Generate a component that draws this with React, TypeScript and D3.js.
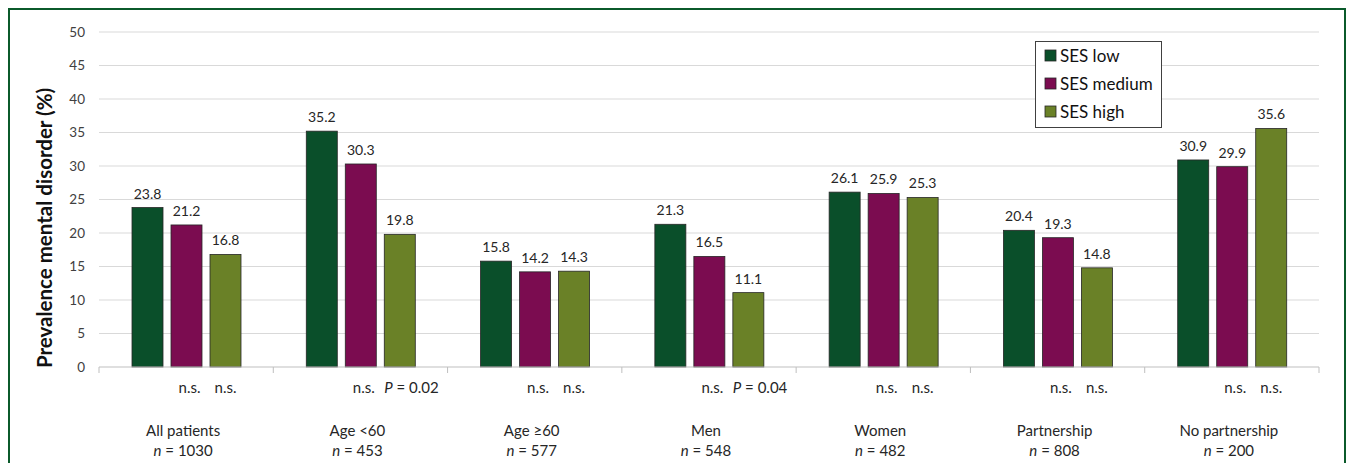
import React, { useEffect, useRef } from "react";
import * as d3 from "d3";

const categories = ["All patients", "Age <60", "Age ≥60", "Men", "Women", "Partnership", "No partnership"];
const sampleSizes = ["1030", "453", "577", "548", "482", "808", "200"];
const seriesNames = ["SES low", "SES medium", "SES high"];
const sesLow = [23.8, 35.2, 15.8, 21.3, 26.1, 20.4, 30.9];
const sesMedium = [21.2, 30.3, 14.2, 16.5, 25.9, 19.3, 29.9];
const sesHigh = [16.8, 19.8, 14.3, 11.1, 25.3, 14.8, 35.6];
const pMedium = ["n.s.", "n.s.", "n.s.", "n.s.", "n.s.", "n.s.", "n.s."];
const pHigh = ["n.s.", "0.02", "n.s.", "0.04", "n.s.", "n.s.", "n.s."];
const yTicks = [0, 5, 10, 15, 20, 25, 30, 35, 40, 45, 50];
const colors = ["#0a4f2a", "#7b0c50", "#6a8127"];

const W = 1347;
const H = 463;
const FONT = "Lato, 'Open Sans', sans-serif";

const App = () => {
  const svgRef = useRef<SVGSVGElement>(null);

  useEffect(() => {
    const svg = d3.select(svgRef.current);
    svg.selectAll("*").remove();

    // outer frame
    svg.append("rect")
      .attr("x", 9).attr("y", 9)
      .attr("width", 1336).attr("height", 470)
      .attr("fill", "white")
      .attr("stroke", "#0b5a2b")
      .attr("stroke-width", 2);

    const left = 99, right = 1319, top = 32, bottom = 367;

    const x = d3.scaleBand().domain(categories).range([left, right]).padding(0);
    const y = d3.scaleLinear().domain([0, 50]).range([bottom, top]);
    const inner = d3.scaleBand().domain(seriesNames).range([33, 33 + 109]).paddingInner(0.205).paddingOuter(0);

    // gridlines
    svg.append("g")
      .selectAll("line")
      .data(yTicks.filter(t => t > 0))
      .enter()
      .append("line")
      .attr("x1", left).attr("x2", right)
      .attr("y1", d => y(d)).attr("y2", d => y(d))
      .attr("stroke", "#d9d9d9")
      .attr("stroke-width", 1);

    // y tick labels
    svg.append("g")
      .selectAll("text")
      .data(yTicks)
      .enter()
      .append("text")
      .attr("x", 85)
      .attr("y", d => y(d))
      .attr("dy", "0.35em")
      .attr("text-anchor", "end")
      .attr("font-family", FONT)
      .attr("font-size", 13.5)
      .attr("fill", "#404040")
      .text(d => d);

    // y axis title
    svg.append("text")
      .attr("transform", `translate(52,228) rotate(-90)`)
      .attr("text-anchor", "middle")
      .attr("font-family", FONT)
      .attr("font-size", 20.5)
      .attr("font-weight", "bold")
      .attr("fill", "#111")
      .text("Prevalence mental disorder (%)");

    // bars
    const series = [sesLow, sesMedium, sesHigh];
    series.forEach((vals, si) => {
      const g = svg.append("g");
      g.selectAll("rect")
        .data(vals)
        .enter()
        .append("rect")
        .attr("x", (d, i) => x(categories[i])! + inner(seriesNames[si])!)
        .attr("y", d => y(d))
        .attr("width", inner.bandwidth())
        .attr("height", d => bottom - y(d))
        .attr("fill", colors[si])
        .attr("stroke", "#262626")
        .attr("stroke-width", 0.8);

      g.selectAll("text")
        .data(vals)
        .enter()
        .append("text")
        .attr("x", (d, i) => x(categories[i])! + inner(seriesNames[si])! + inner.bandwidth() / 2)
        .attr("y", d => y(d) - 9)
        .attr("text-anchor", "middle")
        .attr("font-family", FONT)
        .attr("font-size", 14)
        .attr("fill", "#262626")
        .text(d => d.toFixed(1));
    });

    // x axis line and ticks
    svg.append("line")
      .attr("x1", left).attr("x2", right)
      .attr("y1", bottom).attr("y2", bottom)
      .attr("stroke", "#bfbfbf");
    const boundaries = categories.map(c => x(c)!).concat([right]);
    svg.append("g")
      .selectAll("line")
      .data(boundaries)
      .enter()
      .append("line")
      .attr("x1", d => d).attr("x2", d => d)
      .attr("y1", bottom).attr("y2", bottom + 6)
      .attr("stroke", "#bfbfbf");

    // significance labels
    const sig = svg.append("g")
      .attr("font-family", FONT)
      .attr("font-size", 15)
      .attr("fill", "#262626");
    categories.forEach((c, i) => {
      const mx = x(c)! + inner("SES medium")! + inner.bandwidth() / 2 + 3;
      sig.append("text")
        .attr("x", mx).attr("y", 393)
        .attr("text-anchor", "middle")
        .text(pMedium[i]);
      const hx = x(c)! + inner("SES high")!;
      if (pHigh[i] === "n.s.") {
        sig.append("text")
          .attr("x", hx + inner.bandwidth() / 2).attr("y", 393)
          .attr("text-anchor", "middle")
          .text(pHigh[i]);
      } else {
        const t = sig.append("text").attr("x", hx).attr("y", 393);
        t.append("tspan").attr("font-style", "italic").text("P");
        t.append("tspan").text(" = " + pHigh[i]);
      }
    });

    // category labels
    const cat = svg.append("g")
      .attr("font-family", FONT)
      .attr("font-size", 15)
      .attr("fill", "#262626")
      .attr("text-anchor", "middle");
    categories.forEach((c, i) => {
      const cx = x(c)! + x.bandwidth() / 2 - 3;
      cat.append("text").attr("x", cx).attr("y", 436).text(c);
      const t = cat.append("text").attr("x", cx).attr("y", 456);
      t.append("tspan").attr("font-style", "italic").text("n");
      t.append("tspan").text(" = " + sampleSizes[i]);
    });

    // legend
    const lg = svg.append("g");
    lg.append("rect")
      .attr("x", 1035.5).attr("y", 41.5)
      .attr("width", 126).attr("height", 86)
      .attr("fill", "white")
      .attr("stroke", "#404040")
      .attr("stroke-width", 1);
    seriesNames.forEach((s, i) => {
      const yy = 56 + i * 28;
      lg.append("rect")
        .attr("x", 1045).attr("y", yy - 6)
        .attr("width", 11).attr("height", 11)
        .attr("fill", colors[i])
        .attr("stroke", "#262626")
        .attr("stroke-width", 0.8);
      lg.append("text")
        .attr("x", 1060).attr("y", yy)
        .attr("dy", "0.35em")
        .attr("font-family", FONT)
        .attr("font-size", 17)
        .attr("fill", "#111")
        .text(s);
    });
  }, []);

  return (
    <svg
      ref={svgRef}
      width={W}
      height={H}
      style={{ position: "absolute", left: 0, top: 0, display: "block" }}
    />
  );
};

export default App;
